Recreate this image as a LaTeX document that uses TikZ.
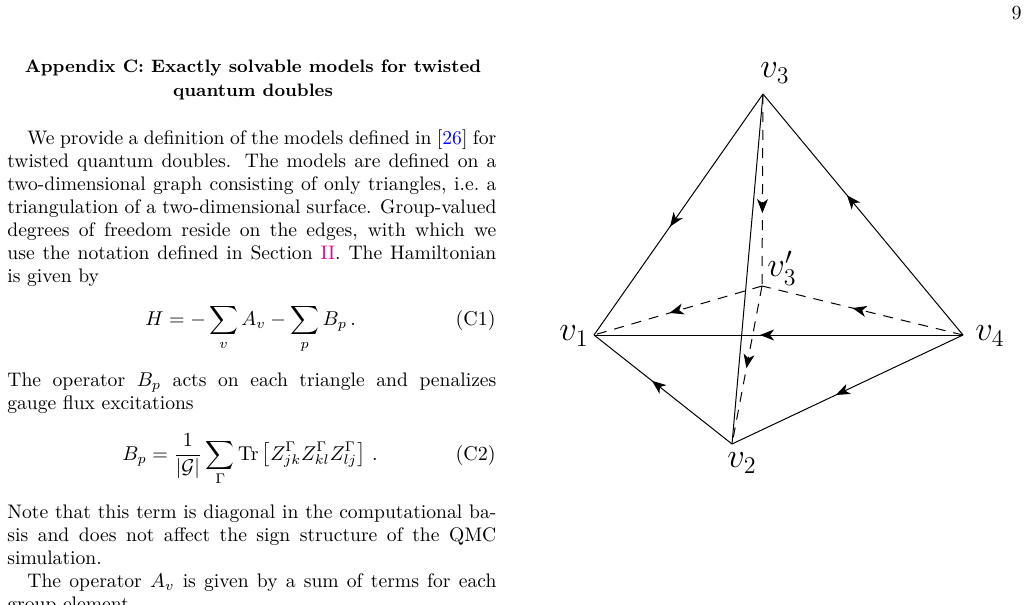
\documentclass[tikz,border=0pt]{standalone}
\usetikzlibrary{decorations.markings,arrows.meta}
\definecolor{linkblue}{RGB}{0,0,255}
\definecolor{linkmag}{RGB}{230,0,150}
\tikzset{
  edge/.style={line width=0.5pt},
  dedge/.style={line width=0.5pt,dash pattern=on 5pt off 4pt},
  marr/.style={postaction={decorate},decoration={markings,mark=at position #1 with {\arrow{Stealth[length=7pt,width=5.5pt,inset=2pt]}}}},
  lbl/.style={inner sep=0pt,font=\fontsize{17}{20}\selectfont},
  txt/.style={anchor=base west,inner sep=0pt}
}
\begin{document}
\begin{tikzpicture}[x=0.5pt,y=-0.5pt]
\useasboundingbox (0,0) rectangle (1029,605);
\clip (0,0) rectangle (1029,605);
% page number
\node[txt,anchor=base east] (pg) at (1022,19) {9};
% heading
\node[anchor=north,inner sep=0pt,align=center,font=\bfseries\small] (head) at (253,59) {Appendix C: Exactly solvable models for twisted\\[1pt] quantum doubles};
% paragraph 1
\node[txt] (p1) at (7,144) {\parbox[t]{244.5pt}{\fontsize{9.8}{11.5}\selectfont\hspace*{10pt}We provide a definition of the models defined in [{\color{linkblue}26}] for\linebreak twisted quantum doubles. The models are defined on a\linebreak \mbox{two-dimensional} graph consisting of only triangles, i.e.\ a\linebreak triangulation of a \mbox{two-dimensional} surface. \mbox{Group-valued}\linebreak degrees of freedom reside on the edges, with which we\linebreak use the notation defined in Section {\color{linkmag}II}. The Hamiltonian\linebreak is given by}};
% eq C1
\node[txt] (e1) at (145,325) {$\displaystyle H=-\sum_v A_v-\sum_p B_p\,.$};
\node[txt,anchor=base east] (e1n) at (496,325) {(C1)};
% paragraph 2
\node[txt] (p2) at (7,386) {\parbox[t]{244.5pt}{\fontsize{9.8}{11.5}\selectfont The operator $B_p$ acts on each triangle and penalizes\linebreak gauge flux excitations}};
% eq C2
\node[txt] (e2) at (122,460) {$\displaystyle B_p=\frac{1}{|\mathcal{G}|}\sum_\Gamma \mathrm{Tr}\left[Z^\Gamma_{jk}Z^\Gamma_{kl}Z^\Gamma_{lj}\right]\,.$};
\node[txt,anchor=base east] (e2n) at (496,460) {(C2)};
% paragraph 3
\node[txt] (p3) at (7,518) {\parbox[t]{244.5pt}{\fontsize{9.8}{11.5}\selectfont Note that this term is diagonal in the computational ba-\linebreak sis and does not affect the sign structure of the QMC\linebreak simulation.\par\hspace*{10pt}The operator $A_v$ is given by a sum of terms for each\linebreak group element}};
% tetrahedron
\coordinate (v3) at (763,94);
\coordinate (v1) at (594,335);
\coordinate (v4) at (963,335);
\coordinate (v2) at (732,444);
\coordinate (v3p) at (762,286);
\draw[edge,marr=0.55] (v3) -- (v1);
\draw[edge,marr=0.58] (v4) -- (v3);
\draw[edge,marr=0.55] (v4) -- (v1);
\draw[edge,marr=0.55] (v4) -- (v2);
\draw[edge,marr=0.58] (v2) -- (v1);
\draw[edge] (v3) -- (v2);
\draw[dedge,marr=0.62] (v3) -- (v3p);
\draw[dedge,marr=0.52] (v3p) -- (v2);
\draw[dedge,marr=0.55] (v4) -- (v3p);
\draw[dedge,marr=0.55] (v3p) -- (v1);
\node[lbl] (l3) at (775,73) {$v_3$};
\node[lbl] (l1) at (574,336) {$v_1$};
\node[lbl] (l4) at (990,336) {$v_4$};
\node[lbl] (l2) at (742,463) {$v_2$};
\node[lbl] (l3p) at (782,268) {$v_3'$};
\end{tikzpicture}
\end{document}
